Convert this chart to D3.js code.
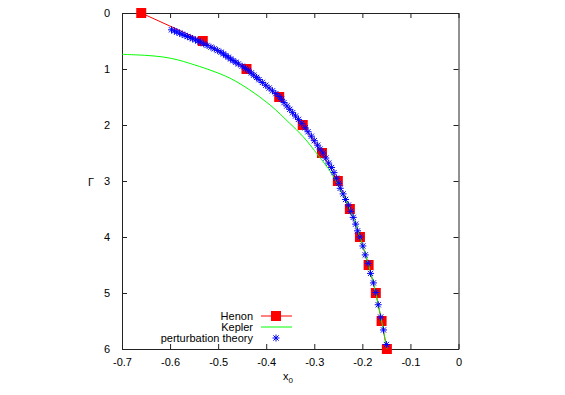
<!DOCTYPE html>
<html>
<head>
<meta charset="UTF-8">
<style>
body,html{
    margin:0;
    padding:0;
    width:100%;
    height:100%;
    overflow:hidden;
    background-color:#ffffff;
}
svg text{
    font-family: "Liberation Sans", Arial, sans-serif;
    font-size: 11px;
    fill: #000;
}
</style>
</head>
<body>
<svg id="chart" width="565" height="395"></svg>
<script src="https://d3js.org/d3.v7.min.js"></script>
<script>

// Henon data (x0, Gamma)
let henonX = [-0.660, -0.532, -0.441, -0.373, -0.324, -0.284, -0.251, -0.226, -0.205, -0.187, -0.172, -0.160, -0.149];
let henonG = [0, 0.5, 1, 1.5, 2, 2.5, 3, 3.5, 4, 4.5, 5, 5.5, 6];

// Kepler curve
let keplerX = [-0.700, -0.650, -0.614, -0.585, -0.559, -0.517, -0.475, -0.434, -0.392, -0.351, -0.323, -0.292, -0.265, -0.247, -0.226, -0.205, -0.187, -0.172, -0.160, -0.149];
let keplerG = [0.738, 0.757, 0.786, 0.835, 0.900, 1.018, 1.166, 1.375, 1.643, 1.970, 2.210, 2.540, 2.850, 3.130, 3.500, 4.000, 4.500, 5.000, 5.500, 6.000];

// perturbation theory points
let pertX = [-0.597, -0.591, -0.586, -0.580, -0.575, -0.569, -0.564, -0.558, -0.553, -0.547, -0.542,
    -0.537, -0.530, -0.523, -0.515, -0.508, -0.501, -0.494, -0.489, -0.484, -0.479,
    -0.474, -0.469, -0.463, -0.458, -0.450, -0.443, -0.437, -0.431, -0.426, -0.420,
    -0.415, -0.408, -0.401, -0.394, -0.387, -0.380, -0.373, -0.368, -0.363, -0.357,
    -0.351, -0.345, -0.339, -0.333, -0.326, -0.319, -0.313, -0.306, -0.300, -0.293,
    -0.288, -0.282, -0.276, -0.270, -0.264, -0.259, -0.254, -0.249, -0.246, -0.240,
    -0.235, -0.229, -0.224, -0.219, -0.214, -0.210, -0.205, -0.199, -0.194, -0.188,
    -0.183, -0.177, -0.172, -0.167, -0.162, -0.156, -0.150];
let pertG = [0.30, 0.32, 0.34, 0.36, 0.38, 0.40, 0.42, 0.44, 0.46, 0.48, 0.50,
    0.52, 0.55, 0.58, 0.61, 0.64, 0.67, 0.70, 0.73, 0.76, 0.79,
    0.82, 0.85, 0.88, 0.91, 0.95, 0.99, 1.03, 1.07, 1.11, 1.15,
    1.19, 1.24, 1.29, 1.34, 1.39, 1.44, 1.49, 1.54, 1.60, 1.66,
    1.72, 1.78, 1.84, 1.90, 1.97, 2.05, 2.12, 2.20, 2.28, 2.36,
    2.43, 2.50, 2.59, 2.68, 2.76, 2.85, 2.95, 3.04, 3.13, 3.23,
    3.33, 3.43, 3.54, 3.65, 3.77, 3.89, 4.00, 4.16, 4.32, 4.47,
    4.65, 4.82, 4.99, 5.21, 5.43, 5.66, 5.92];

let xTicks = [-0.7, -0.6, -0.5, -0.4, -0.3, -0.2, -0.1, 0];
let yTicks = [0, 1, 2, 3, 4, 5, 6];

let pLeft = 122, pRight = 458.5, pTop = 13, pBottom = 349;

let svg = d3.select("#chart");

let x = d3.scaleLinear().domain([-0.7, 0]).range([pLeft, pRight]);
let y = d3.scaleLinear().domain([0, 6]).range([pTop, pBottom]);

svg.append("clipPath").attr("id", "plotclip")
    .append("rect")
    .attr("x", pLeft).attr("y", pTop)
    .attr("width", pRight - pLeft).attr("height", pBottom - pTop);

// axes with inward ticks on all sides
let tickLen = 5;
let axisColor = "#222";

let bottomAxis = svg.append("g").attr("transform", `translate(0,${pBottom})`)
    .call(d3.axisBottom(x).tickValues(xTicks).tickSizeInner(-tickLen).tickSizeOuter(0).tickPadding(9)
        .tickFormat(d => d === 0 ? "0" : d3.format(".1f")(d).replace("−", "-")));
let topAxis = svg.append("g").attr("transform", `translate(0,${pTop})`)
    .call(d3.axisTop(x).tickValues(xTicks).tickSizeInner(-tickLen).tickSizeOuter(0).tickFormat(""));
let leftAxis = svg.append("g").attr("transform", `translate(${pLeft},0)`)
    .call(d3.axisLeft(y).tickValues(yTicks).tickSizeInner(-tickLen).tickSizeOuter(0).tickPadding(12)
        .tickFormat(d3.format("d")));
let rightAxis = svg.append("g").attr("transform", `translate(${pRight},0)`)
    .call(d3.axisRight(y).tickValues(yTicks).tickSizeInner(-tickLen).tickSizeOuter(0).tickFormat(""));

[bottomAxis, topAxis, leftAxis, rightAxis].forEach(a => {
    a.select(".domain").attr("stroke", axisColor).attr("stroke-width", 1);
    a.selectAll(".tick line").attr("stroke", axisColor);
    a.selectAll("text")
        .attr("font-family", "'Liberation Sans', Arial, sans-serif")
        .attr("font-size", 11)
        .attr("fill", "#000");
});

// axis titles
let xl = svg.append("text").attr("x", 288).attr("y", 380).attr("text-anchor", "middle");
xl.append("tspan").text("x");
xl.append("tspan").attr("dy", 3).attr("font-size", 8).text("0");

svg.append("text").attr("x", 91).attr("y", 186).attr("text-anchor", "middle").text("Γ");

let henon = henonX.map((v, i) => ({x: v, g: henonG[i]}));
let kepler = keplerX.map((v, i) => ({x: v, g: keplerG[i]}));
let pert = pertX.map((v, i) => ({x: v, g: pertG[i]}));

// Henon: line + squares
svg.append("path")
    .datum(henon)
    .attr("fill", "none")
    .attr("stroke", "#ff0000")
    .attr("stroke-width", 1)
    .attr("d", d3.line().x(d => x(d.x)).y(d => y(d.g)));

let sq = 10;
svg.append("g").selectAll("rect")
    .data(henon)
    .enter()
    .append("rect")
    .attr("x", d => x(d.x) - sq / 2)
    .attr("y", d => y(d.g) - sq / 2)
    .attr("width", sq)
    .attr("height", sq)
    .attr("fill", "#ff0000");

// Kepler
svg.append("path")
    .datum(kepler)
    .attr("clip-path", "url(#plotclip)")
    .attr("fill", "none")
    .attr("stroke", "#00ff00")
    .attr("stroke-width", 1)
    .attr("d", d3.line().curve(d3.curveCatmullRom).x(d => x(d.x)).y(d => y(d.g)));

// star symbol (plus + cross)
function star(cx, cy, r) {
    let a = r * 0.75;
    return `M${cx - r},${cy}L${cx + r},${cy}M${cx},${cy - r}L${cx},${cy + r}` +
        `M${cx - a},${cy - a}L${cx + a},${cy + a}M${cx - a},${cy + a}L${cx + a},${cy - a}`;
}

svg.append("g").selectAll("path")
    .data(pert)
    .enter()
    .append("path")
    .attr("d", d => star(x(d.x), y(d.g), 3.5))
    .attr("stroke", "#0000ff")
    .attr("stroke-width", 1)
    .attr("fill", "none");

// legend
let legend = [
    {label: "Henon", type: "henon", y: 316},
    {label: "Kepler", type: "kepler", y: 327},
    {label: "perturbation theory", type: "pert", y: 338}
];
let lx1 = 261, lx2 = 292, lmid = 276;

let item = svg.append("g").selectAll("g")
    .data(legend)
    .enter()
    .append("g");

item.append("text")
    .attr("x", 253)
    .attr("y", d => d.y + 4)
    .attr("text-anchor", "end")
    .text(d => d.label);

item.filter(d => d.type !== "pert").append("line")
    .attr("x1", lx1).attr("x2", lx2)
    .attr("y1", d => d.y).attr("y2", d => d.y)
    .attr("stroke", d => d.type === "henon" ? "#ff0000" : "#00ff00")
    .attr("stroke-width", 1);

item.filter(d => d.type === "henon").append("rect")
    .attr("x", lmid - sq / 2).attr("y", d => d.y - sq / 2)
    .attr("width", sq).attr("height", sq)
    .attr("fill", "#ff0000");

item.filter(d => d.type === "pert").append("path")
    .attr("d", d => star(lmid, d.y, 3.5))
    .attr("stroke", "#0000ff")
    .attr("fill", "none");

</script>
</body>
</html>
